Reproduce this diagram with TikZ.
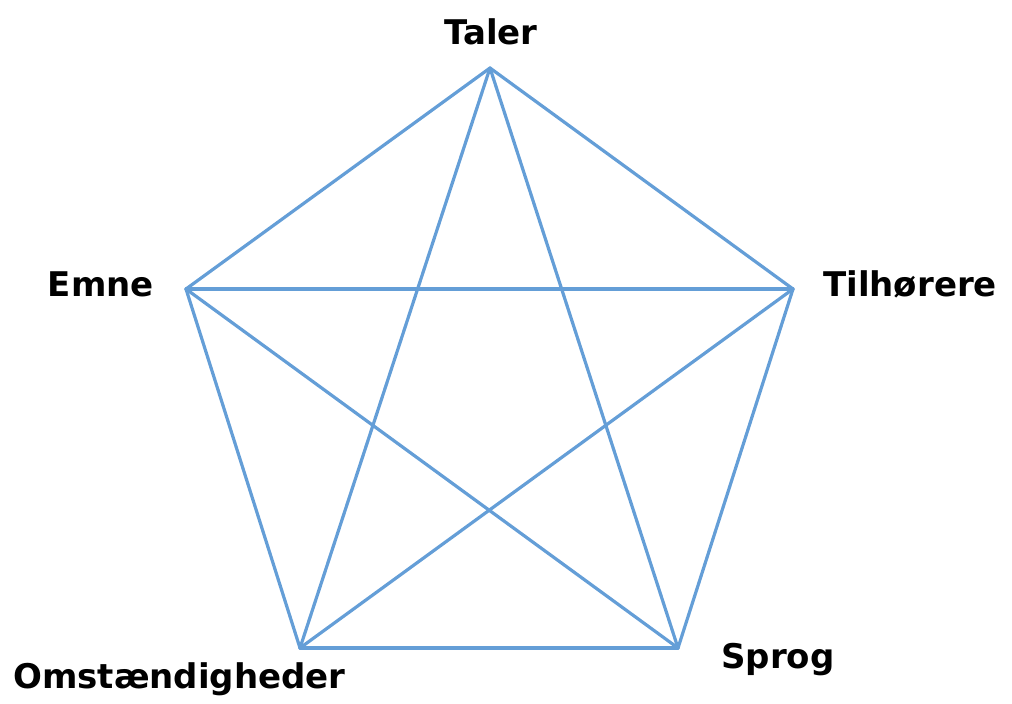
\documentclass[tikz,border=0pt]{standalone}
\usepackage{fontspec}
\setmainfont{DejaVu Sans}
\usepackage{xcolor}
\usepackage{tikz}
\usetikzlibrary{calc}
\definecolor{lineblue}{RGB}{100, 158, 215}
\tikzstyle{edge} = [
    line width=3.2pt,
    color=lineblue,
    line join=round,
    line cap=round
]
\tikzstyle{label} = [
    anchor=base,
    inner sep=0pt,
    font=\fontsize{34}{40}\selectfont\bfseries
]

\begin{document}
\begin{tikzpicture}[x=1pt, y=-1pt]
        \useasboundingbox (0, 0) rectangle (1012, 704);

        % Corners of the pentagon
        \coordinate (taler) at (490, 68);
        \coordinate (tilhorere) at (793, 289);
        \coordinate (sprog) at (678, 648);
        \coordinate (omst) at (300, 648);
        \coordinate (emne) at (186, 289);

        % Sides and diagonals
        \foreach \a/\b in {taler/tilhorere, tilhorere/sprog, sprog/omst, omst/emne, emne/taler,
                           taler/sprog, taler/omst, tilhorere/omst, tilhorere/emne, emne/sprog}
            \draw[edge] (\a) -- (\b);

        % Labels
        \node[label] (talerlabel) at (491, 44) {Taler};
        \node[label, anchor=base west] (tilhorerelabel) at (823, 296) {Tilhørere};
        \node[label, anchor=base east] (emnelabel) at (154, 296) {Emne};
        \node[label, anchor=base west] (sproglabel) at (721, 668) {Sprog};
        \node[label, anchor=base west] (omstlabel) at (13, 688) {Omstændigheder};
    \end{tikzpicture}
\end{document}
